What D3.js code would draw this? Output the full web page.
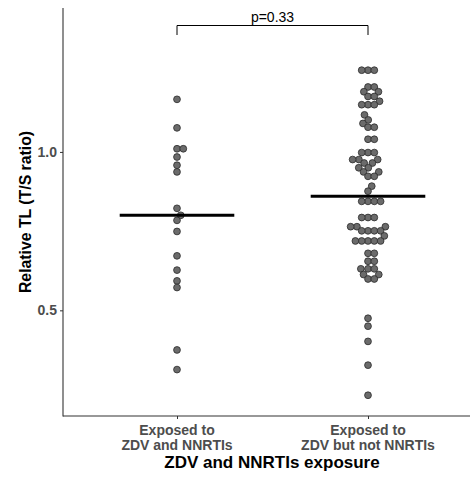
<!DOCTYPE html>
<html>
<head>
<meta charset="utf-8">
<script src="https://cdn.jsdelivr.net/npm/d3@7"></script>
<style>
  html, body { margin: 0; padding: 0; background: #fff; }
  svg { display: block; font-family: "Liberation Sans", Arial, sans-serif; }
</style>
</head>
<body>
<svg id="chart" width="470" height="478"></svg>
<script>
// ---- data ----
const categories = ["Exposed to\nZDV and NNRTIs", "Exposed to\nZDV but not NNRTIs"];
const groupA = [1.166, 1.076, 1.010, 1.010, 0.984, 0.958, 0.937, 0.822, 0.800, 0.784, 0.749, 0.672, 0.627, 0.593, 0.572, 0.375, 0.313];
const groupB = [
  1.258, 1.258, 1.258,
  1.205, 1.205,
  1.190, 1.190,
  1.175, 1.175,
  1.160,
  1.149, 1.149, 1.149,
  1.117, 1.101, 1.090,
  1.078, 1.078,
  1.040, 1.040,
  0.998, 0.998, 0.998,
  0.976, 0.976, 0.976,
  0.965, 0.965,
  0.950, 0.950,
  0.937, 0.937,
  0.923, 0.923,
  0.892, 0.876,
  0.844, 0.844, 0.844, 0.844,
  0.793, 0.793, 0.793,
  0.764, 0.764, 0.764,
  0.751, 0.751, 0.751, 0.751,
  0.735,
  0.719, 0.719, 0.719, 0.719, 0.719,
  0.680, 0.680,
  0.655, 0.655,
  0.631, 0.631, 0.631,
  0.613, 0.613,
  0.599, 0.599,
  0.475, 0.450, 0.402, 0.327, 0.232
];
const seriesValues = [groupA, groupB];
const yTicks = [0.5, 1.0];
const yTitle = "Relative TL (T/S ratio)";
const xTitle = "ZDV and NNRTIs exposure";
const pLabel = "p=0.33";

// ---- layout ----
const svg = d3.select("#chart");
const plot = { left: 63, right: 470, top: 8, bottom: 416 };

const x = d3.scalePoint().domain(categories).range([177, 368]);
const step = x(categories[1]) - x(categories[0]);
const y = d3.scaleLinear().domain([0.1665, 1.4543]).range([plot.bottom, plot.top]);

// axes
const yAxis = d3.axisLeft(y).tickValues(yTicks).tickFormat(d3.format(".1f")).tickSize(3).tickPadding(3);
const gy = svg.append("g").attr("transform", `translate(${plot.left},0)`).call(yAxis);
gy.select(".domain").remove();
gy.selectAll(".tick line").attr("stroke", "#333").attr("stroke-width", 1);
gy.selectAll(".tick text").attr("fill", "#4d4d4d").attr("font-size", 14).attr("font-weight", "bold")
  .attr("font-family", "Liberation Sans, Arial, sans-serif");

const xAxis = d3.axisBottom(x).tickSize(3).tickFormat(() => "");
const gx = svg.append("g").attr("transform", `translate(0,${plot.bottom})`).call(xAxis);
gx.select(".domain").remove();
gx.selectAll(".tick line").attr("stroke", "#333").attr("stroke-width", 1);

// axis lines
svg.append("line").attr("x1", plot.left).attr("x2", plot.left).attr("y1", plot.top).attr("y2", plot.bottom + 0.5)
  .attr("stroke", "#333").attr("stroke-width", 1.1);
svg.append("line").attr("x1", plot.left).attr("x2", plot.right).attr("y1", plot.bottom).attr("y2", plot.bottom)
  .attr("stroke", "#333").attr("stroke-width", 1.1);

// x tick labels (two lines)
categories.forEach(c => {
  const lines = c.split("\n");
  const t = svg.append("text").attr("text-anchor", "middle").attr("fill", "#4d4d4d")
    .attr("font-size", 14).attr("font-weight", "bold");
  lines.forEach((ln, i) => {
    t.append("tspan").attr("x", x(c)).attr("y", 434.5 + i * 15.5).text(ln);
  });
});

// titles
svg.append("text").attr("x", 272).attr("y", 467.5).attr("text-anchor", "middle")
  .attr("font-size", 17).attr("font-weight", "bold").attr("fill", "#000").text(xTitle);
svg.append("text").attr("transform", `translate(31,${(plot.top + plot.bottom) / 2}) rotate(-90)`)
  .attr("text-anchor", "middle").attr("font-size", 15.8).attr("font-weight", "bold").attr("fill", "#000").text(yTitle);

// beeswarm layout
const r = 3.4, d = 6.3;
function swarm(values) {
  const pts = values.map(v => ({ v, py: y(v), dx: 0 }));
  const order = pts.slice().sort((a, b) => a.v - b.v);
  const placed = [];
  order.forEach(p => {
    const cands = [0];
    placed.forEach(q => {
      const dy = Math.abs(q.py - p.py);
      if (dy < d) {
        const off = Math.sqrt(d * d - dy * dy);
        cands.push(q.dx + off, q.dx - off);
      }
    });
    cands.sort((a, b) => Math.abs(a) - Math.abs(b) || b - a);
    for (const c of cands) {
      const ok = placed.every(q => {
        const ddx = q.dx - c, ddy = q.py - p.py;
        return ddx * ddx + ddy * ddy >= d * d - 0.01;
      });
      if (ok) { p.dx = c; break; }
    }
    placed.push(p);
  });
  return pts;
}

categories.forEach((c, i) => {
  const pts = swarm(seriesValues[i]);
  svg.append("g").selectAll("circle").data(pts).join("circle")
    .attr("cx", p => x(c) + p.dx).attr("cy", p => p.py).attr("r", r)
    .attr("fill", "#6b6b6b").attr("stroke", "#2b2b2b").attr("stroke-width", 0.8);
  const med = d3.median(seriesValues[i]);
  svg.append("line").attr("x1", x(c) - step * 0.3).attr("x2", x(c) + step * 0.3)
    .attr("y1", y(med)).attr("y2", y(med)).attr("stroke", "#000").attr("stroke-width", 3);
});

// significance bracket
const by = 25.5, bt = 35;
svg.append("path")
  .attr("d", `M${x(categories[0])},${bt}V${by}H${x(categories[1])}V${bt}`)
  .attr("fill", "none").attr("stroke", "#000").attr("stroke-width", 1);
svg.append("text").attr("x", (x(categories[0]) + x(categories[1])) / 2).attr("y", 21.5)
  .attr("text-anchor", "middle").attr("font-size", 14).attr("fill", "#000").text(pLabel);
</script>
</body>
</html>
